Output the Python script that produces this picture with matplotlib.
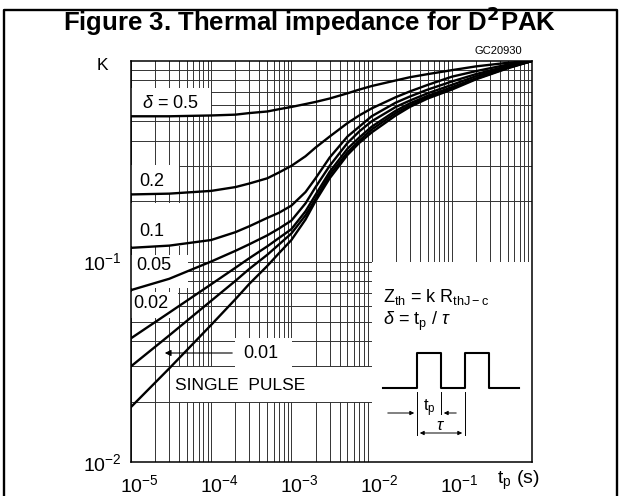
import numpy as np
import matplotlib.pyplot as plt
import matplotlib.transforms as mtransforms
from matplotlib.patches import Rectangle

plt.rcParams['font.family'] = ['Liberation Sans', 'DejaVu Sans']
plt.rcParams['mathtext.fontset'] = 'custom'
plt.rcParams['mathtext.rm'] = 'Liberation Sans'
plt.rcParams['mathtext.it'] = 'Liberation Sans:italic'

# pulse duration (s) and normalised thermal impedance K
tp = [1e-5, 3e-5, 1e-4, 2e-4, 3e-4, 5e-4, 7e-4, 1e-3, 1.5e-3, 2e-3, 3e-3, 5e-3, 7e-3,
      1e-2, 2e-2, 3e-2, 5e-2, 1e-1, 2e-1, 5e-1, 1.0]
k_05 = [0.53, 0.53, 0.535, 0.54, 0.55, 0.56, 0.575, 0.59, 0.61, 0.625, 0.65, 0.69, 0.72,
        0.75, 0.80, 0.83, 0.86, 0.90, 0.94, 0.98, 1.0]
k_02 = [0.216, 0.218, 0.225, 0.235, 0.245, 0.26, 0.278, 0.30, 0.335, 0.37, 0.42, 0.49, 0.535,
        0.58, 0.66, 0.705, 0.76, 0.835, 0.89, 0.96, 1.0]
k_01 = [0.117, 0.12, 0.128, 0.14, 0.15, 0.165, 0.175, 0.19, 0.222, 0.26, 0.33, 0.42, 0.47,
        0.53, 0.62, 0.665, 0.72, 0.79, 0.86, 0.945, 1.0]
k_005 = [0.072, 0.082, 0.10, 0.113, 0.122, 0.135, 0.146, 0.16, 0.195, 0.235, 0.30, 0.39, 0.445,
         0.50, 0.59, 0.635, 0.69, 0.76, 0.84, 0.935, 1.0]
k_002 = [0.0414, 0.0556, 0.077, 0.093, 0.104, 0.119, 0.131, 0.145, 0.178, 0.215, 0.28, 0.365, 0.415,
         0.47, 0.565, 0.615, 0.67, 0.74, 0.82, 0.93, 1.0]
k_001 = [0.030, 0.0428, 0.0637, 0.080, 0.092, 0.108, 0.1216, 0.138, 0.17, 0.205, 0.27, 0.35, 0.40,
         0.455, 0.55, 0.60, 0.66, 0.73, 0.815, 0.925, 1.0]
k_single = [0.0188, 0.0293, 0.0483, 0.0648, 0.0775, 0.095, 0.110, 0.128, 0.162, 0.20, 0.26, 0.34, 0.39,
            0.44, 0.535, 0.59, 0.65, 0.72, 0.81, 0.92, 1.0]

W, H = 621, 496
fig = plt.figure(figsize=(W / 100, H / 100), dpi=100)

# outer frame
fig.add_artist(plt.Line2D([4 / W, 4 / W, 617 / W, 617 / W], [0, 1 - 10 / H, 1 - 10 / H, 0],
                          color='black', lw=1.7, transform=fig.transFigure))
fig.text(310 / W, 1 - 22 / H, 'Figure 3. Thermal impedance for D$^\\mathbf{2}$PAK',
         ha='center', va='center', fontsize=18.5, fontweight='bold')

L, R, T, B = 131, 532, 61, 462
ax = fig.add_axes([L / W, 1 - B / H, (R - L) / W, (B - T) / H])
ax.set_xscale('log')
ax.set_yscale('log')
ax.set_xlim(1e-5, 1)
ax.set_ylim(1e-2, 1)
ax.grid(which='both', color='#333333', lw=0.7, zorder=0)
ax.set_axisbelow(True)
ax.tick_params(which='both', length=0, labelsize=14)
ax.tick_params(axis='x', pad=9)
ax.tick_params(axis='y', pad=7)
ax.set_xticks([1e-5, 1e-4, 1e-3, 1e-2, 1e-1])
ax.set_xticklabels(['$10^{-5}$', '$10^{-4}$', '$10^{-3}$', '$10^{-2}$', '$10^{-1}$'])
ax.set_yticks([1e-2, 1e-1])
ax.set_yticklabels(['$10^{-2}$', '$10^{-1}$'])
shift = mtransforms.ScaledTranslation(8 / 100, 0, fig.dpi_scale_trans)
for lab in ax.get_xticklabels():
    lab.set_transform(lab.get_transform() + shift)
for s in ax.spines.values():
    s.set_linewidth(1.1)


def d(x, y):
    # pixel position -> data coordinates (layout helper)
    lx = (x - L) / (R - L) * 5 - 5
    ly = (B - y) / (B - T) * 2 - 2
    return 10 ** lx, 10 ** ly


def box(x0, y0, x1, y1):
    (a, b), (c, e) = d(x0, y1), d(x1, y0)
    ax.add_patch(Rectangle((a, b), c - a, e - b, facecolor='white', edgecolor='none', zorder=1))


# white label boxes hiding the grid
box(131, 88, 211, 116)
box(131, 165, 179, 193)
box(131, 203, 180, 246)
box(131, 255, 188, 288)
box(131, 292, 178, 318)
box(235, 338, 292, 367)
box(170, 367, 373, 402)
box(372, 262, 532, 462)

for k in [k_05, k_02, k_01, k_005, k_002, k_001, k_single]:
    ax.plot(tp, k, color='black', lw=1.7, zorder=3, solid_joinstyle='round')

fs = 13
ax.text(*d(142, 103), r'$\delta$ = 0.5', fontsize=fs, va='center', zorder=4)
ax.text(*d(139, 182), '0.2', fontsize=fs, va='center', zorder=4)
ax.text(*d(139, 231), '0.1', fontsize=fs, va='center', zorder=4)
ax.text(*d(136, 265), '0.05', fontsize=fs, va='center', zorder=4)
ax.text(*d(133, 304), '0.02', fontsize=fs, va='center', zorder=4)
ax.text(*d(243, 353), '0.01', fontsize=fs, va='center', zorder=4)
ax.text(*d(175, 385), 'SINGLE  PULSE', fontsize=12.5, va='center', zorder=4)
ax.annotate('', xy=d(162, 353), xytext=d(235, 353),
            arrowprops=dict(arrowstyle='-|>', color='black', lw=0.8, mutation_scale=9), zorder=4)

fig.text(102 / W, 1 - 66 / H, 'K', fontsize=12.5, ha='center', va='center')
fig.text(518 / W, 1 - 480 / H, r'$\mathregular{t_p}$ (s)', fontsize=14, ha='center', va='center')
fig.text(498 / W, 1 - 51.5 / H, 'GC20930', fontsize=8, ha='center', va='center')

# inset with definitions and pulse train sketch
ax.text(*d(383, 297), r'$\mathregular{Z_{th}}$ = k $\mathregular{R_{thJ-c}}$', fontsize=13, va='center', zorder=4)
ax.text(*d(383, 321), r'$\delta$ = $\mathregular{t_p}$ / $\tau$', fontsize=13, va='center', zorder=4)
wx = [383, 417, 417, 441, 441, 465, 465, 489, 489, 519]
wy = [388, 388, 353, 353, 388, 388, 353, 353, 388, 388]
wd = [d(x, y) for x, y in zip(wx, wy)]
ax.plot([p[0] for p in wd], [p[1] for p in wd], color='black', lw=1.5, zorder=4)
for x, y0, y1 in [(417, 392, 435), (441, 392, 414), (465, 392, 435)]:
    (a, b), (_, c) = d(x, y0), d(x, y1)
    ax.plot([a, a], [b, c], color='black', lw=0.7, zorder=4)
ax.annotate('', xy=d(417, 413), xytext=d(385, 413),
            arrowprops=dict(arrowstyle='-|>', color='black', lw=0.7, mutation_scale=6), zorder=4)
ax.annotate('', xy=d(441, 413), xytext=d(459, 413),
            arrowprops=dict(arrowstyle='-|>', color='black', lw=0.7, mutation_scale=6), zorder=4)
ax.annotate('', xy=d(417, 433), xytext=d(465, 433),
            arrowprops=dict(arrowstyle='<|-|>', color='black', lw=0.7, mutation_scale=6), zorder=4)
ax.text(*d(429, 408), r'$\mathregular{t_p}$', fontsize=12, ha='center', va='center', zorder=4)
ax.text(*d(441, 425), r'$\tau$', fontsize=12, ha='center', va='center', zorder=4)

fig.savefig('out.png', dpi=100)
